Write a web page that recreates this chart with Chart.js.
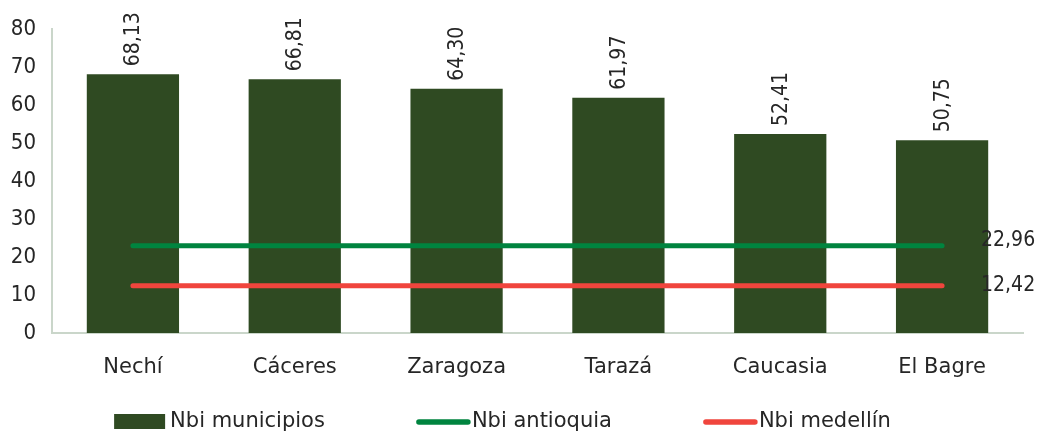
<!DOCTYPE html>
<html>
<head>
<meta charset="utf-8">
<script src="https://cdn.jsdelivr.net/npm/chart.js@4.4.1/dist/chart.umd.min.js"></script>
<style>
  html, body { margin: 0; padding: 0; background: #ffffff; }
  #wrap { width: 1037px; height: 438px; }
</style>
</head>
<body>
<div id="wrap"><canvas id="c" width="1037" height="438"></canvas></div>
<script>
// ---- data ----
const categories = ['Nechí', 'Cáceres', 'Zaragoza', 'Tarazá', 'Caucasia', 'El Bagre'];
const nbiMunicipios = [68.13, 66.81, 64.30, 61.97, 52.41, 50.75];
const nbiAntioquia = [22.96, 22.96, 22.96, 22.96, 22.96, 22.96];
const nbiMedellin = [12.42, 12.42, 12.42, 12.42, 12.42, 12.42];
const seriesNames = ['Nbi municipios', 'Nbi antioquia', 'Nbi medellín'];
const yMin = 0, yMax = 80, yStep = 10;

// ---- styles ----
const TEXT = '#262626';
const AXIS = '#CAD6CA';
const BAR = '#2F4A22';
const GREEN = '#00843F';
const RED = '#F0453D';
const fmt = v => v.toFixed(2).replace('.', ',');

const barLabels = {
  id: 'barLabels',
  afterDatasetsDraw(chart) {
    const ctx = chart.ctx;
    const meta = chart.getDatasetMeta(0);
    ctx.save();
    ctx.fillStyle = TEXT;
    ctx.font = '21px "DejaVu Sans Condensed"';
    meta.data.forEach((el, i) => {
      const v = chart.data.datasets[0].data[i];
      ctx.save();
      ctx.translate(el.x + 1, el.y - 8);
      ctx.rotate(-Math.PI / 2);
      ctx.textAlign = 'left';
      ctx.textBaseline = 'middle';
      ctx.fillText(fmt(v), 0, 0);
      ctx.restore();
    });
    // line end labels
    [1, 2].forEach(di => {
      const m = chart.getDatasetMeta(di);
      const ds = chart.data.datasets[di];
      const last = m.data[m.data.length - 1];
      ctx.textAlign = 'left';
      ctx.textBaseline = 'middle';
      ctx.font = '21px "DejaVu Sans Condensed"';
      ctx.fillText(fmt(ds.data[ds.data.length - 1]), last.x + 39, last.y + (ds.labelDy || 0));
    });
    ctx.restore();
  }
};

const customLegend = {
  id: 'customLegend',
  afterDraw(chart) {
    const ctx = chart.ctx;
    ctx.save();
    ctx.font = '21px "DejaVu Sans"';
    const markerW = 51, textGap = 5, itemGap = 91, cy = 422, centerX = 502.5;
    const items = chart.data.datasets.map(ds => ({
      label: ds.label, type: ds.type || 'bar',
      color: ds.type === 'line' ? ds.borderColor : ds.backgroundColor,
      w: markerW + textGap + ctx.measureText(ds.label).width
    }));
    const total = items.reduce((s, it) => s + it.w, 0) + itemGap * (items.length - 1);
    let x = centerX - total / 2;
    items.forEach(it => {
      if (it.type === 'line') {
        ctx.strokeStyle = it.color;
        ctx.lineWidth = 5.5;
        ctx.lineCap = 'round';
        ctx.beginPath();
        ctx.moveTo(x + 3, cy);
        ctx.lineTo(x + markerW + 1, cy);
        ctx.stroke();
      } else {
        ctx.fillStyle = it.color;
        ctx.fillRect(x, cy - 8, markerW, 15);
      }
      ctx.fillStyle = TEXT;
      ctx.textAlign = 'left';
      ctx.textBaseline = 'middle';
      ctx.fillText(it.label, x + markerW + textGap, cy);
      x += it.w + itemGap;
    });
    ctx.restore();
  }
};

new Chart(document.getElementById('c'), {
  data: {
    labels: categories,
    datasets: [
      { type: 'bar', label: seriesNames[0], data: nbiMunicipios, backgroundColor: BAR,
        barPercentage: 0.57, categoryPercentage: 1.0, order: 3 },
      { type: 'line', label: seriesNames[1], data: nbiAntioquia, borderColor: GREEN, backgroundColor: GREEN,
        borderWidth: 5, borderCapStyle: 'round', pointRadius: 0, pointHoverRadius: 0, order: 1, labelDy: -5 },
      { type: 'line', label: seriesNames[2], data: nbiMedellin, borderColor: RED, backgroundColor: RED,
        borderWidth: 5, borderCapStyle: 'round', pointRadius: 0, pointHoverRadius: 0, order: 2, labelDy: 0 }
    ]
  },
  options: {
    responsive: false,
    animation: false,
    events: [],
    layout: { padding: { top: 29, right: 14, left: 0, bottom: 0 } },
    plugins: { legend: { display: false }, tooltip: { enabled: false } },
    scales: {
      x: {
        grid: { display: false, drawTicks: false },
        border: { display: true, color: AXIS, width: 2 },
        ticks: { color: TEXT, font: { family: 'DejaVu Sans', size: 21 }, padding: 22, maxRotation: 0 },
        afterFit(scale) { scale.height = 105; }
      },
      y: {
        min: yMin, max: yMax,
        grid: { display: false, drawTicks: false },
        border: { display: true, color: AXIS, width: 2 },
        ticks: { stepSize: yStep, color: TEXT, font: { family: 'DejaVu Sans Condensed', size: 22 }, padding: 16 },
        afterFit(scale) { scale.width = 52; }
      }
    }
  },
  plugins: [barLabels, customLegend]
});
</script>
</body>
</html>
